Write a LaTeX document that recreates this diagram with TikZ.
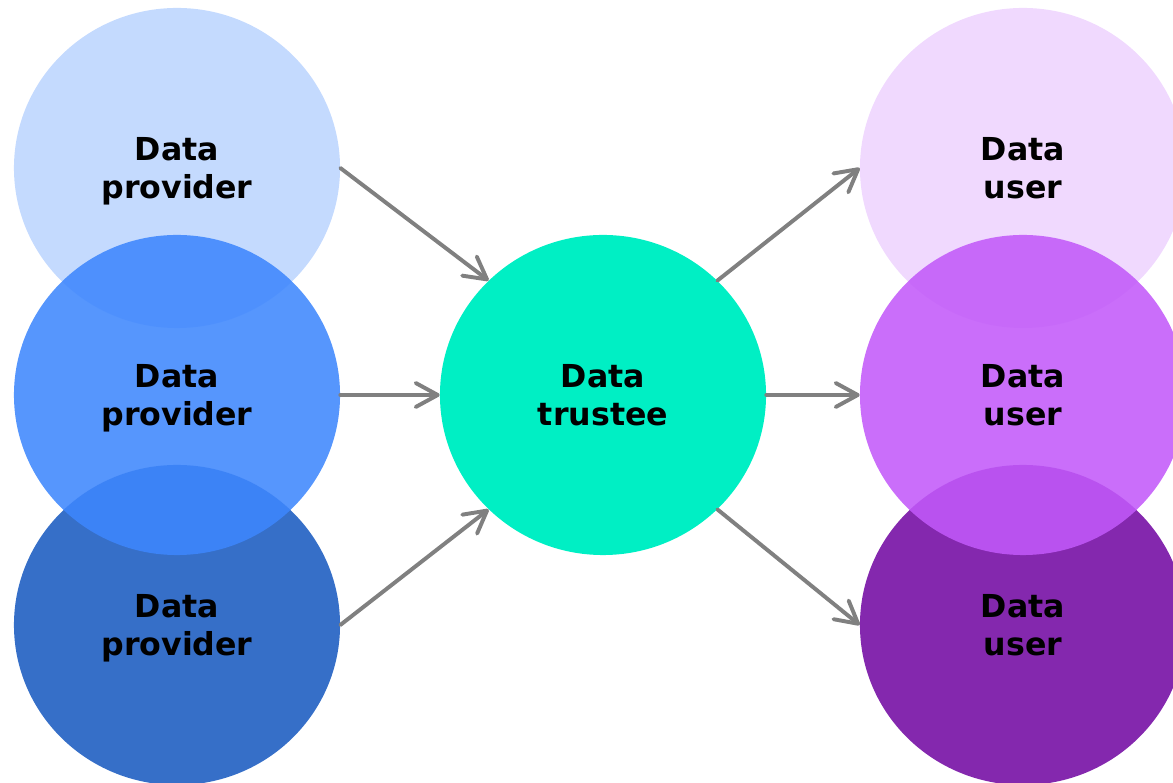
\documentclass[tikz,border=0pt]{standalone}
\usepackage{xcolor}
\usepackage{fontspec}
\usepackage{tikz}
\setmainfont{DejaVu Sans}
\usetikzlibrary{shapes.geometric,arrows.meta}

\definecolor{provA}{HTML}{C4DAFE}
\definecolor{provB}{HTML}{3D86FD}
\definecolor{provC}{HTML}{366FC8}
\definecolor{trusteecol}{HTML}{00EFC4}
\definecolor{userA}{HTML}{F0D9FE}
\definecolor{userB}{HTML}{C259F9}
\definecolor{userC}{HTML}{8428AE}
\definecolor{flowgray}{HTML}{808080}

\begin{document}
\begin{tikzpicture}[x=0.025cm, y=0.025cm,
        party/.style={ellipse, minimum width=8.15cm, minimum height=8cm,
        inner sep=0pt, align=center, text depth=0pt,
        font=\bfseries\fontsize{22.5}{26.5}\selectfont},
        overlay party/.style={party, fill opacity=0.87, text opacity=1},
        flow/.style={draw=flowgray, line width=2.8pt, line cap=round,
        -{Straight Barb[length=5.5mm, width=6mm, round]}}]
        \useasboundingbox (0,0) rectangle (1173,783);
        \clip (0,0) rectangle (1173,783);
        \node[party, fill=provA] (prov1) at (177,615) {Data\\provider};
        \node[party, fill=provC] (prov3) at (177,158) {Data\\provider};
        \node[overlay party, fill=provB] (prov2) at (177,388) {Data\\provider};
        \node[party, fill=trusteecol] (trustee) at (603,388) {Data\\trustee};
        \node[party, fill=userA] (user1) at (1023,615) {Data\\user};
        \node[party, fill=userC] (user3) at (1023,158) {Data\\user};
        \node[overlay party, fill=userB] (user2) at (1023,388) {Data\\user};
        \draw[flow] (prov1.east) -- (trustee.135);
        \draw[flow] (prov2.east) -- (trustee.west);
        \draw[flow] (prov3.east) -- (trustee.-135);
        \draw[flow] (trustee.45) -- (user1.west);
        \draw[flow] (trustee.east) -- (user2.west);
        \draw[flow] (trustee.-45) -- (user3.west);
    \end{tikzpicture}
\end{document}
